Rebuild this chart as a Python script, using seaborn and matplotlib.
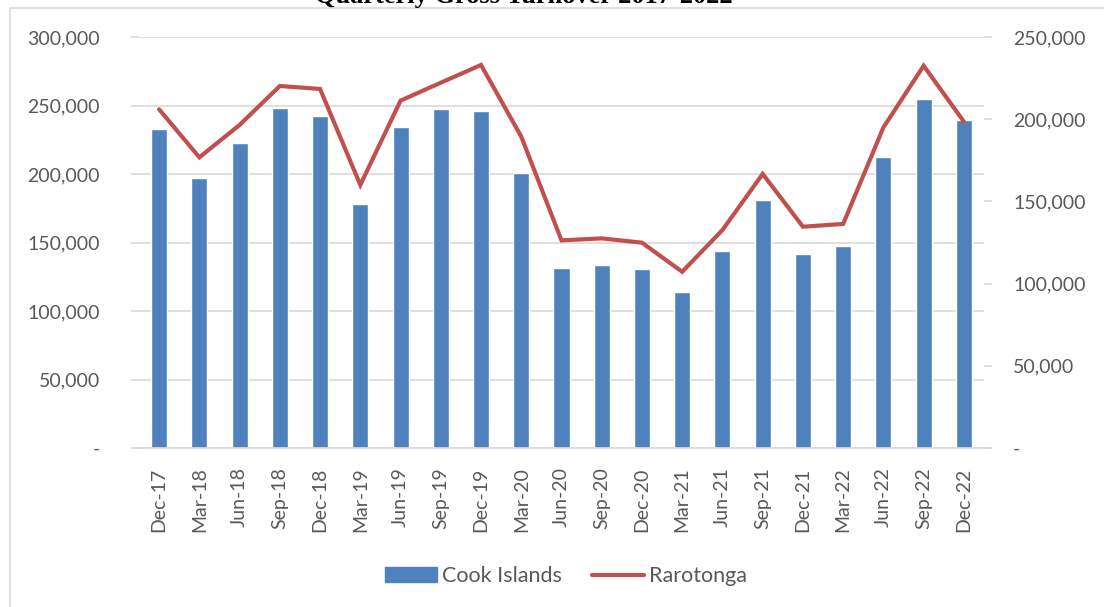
import matplotlib
matplotlib.use("Agg")
import matplotlib.pyplot as plt
import matplotlib.ticker as mticker
from matplotlib.lines import Line2D
import numpy as np
import pandas as pd
import seaborn as sns

# data
quarters = ['Dec-17', 'Mar-18', 'Jun-18', 'Sep-18', 'Dec-18', 'Mar-19', 'Jun-19',
            'Sep-19', 'Dec-19', 'Mar-20', 'Jun-20', 'Sep-20', 'Dec-20', 'Mar-21',
            'Jun-21', 'Sep-21', 'Dec-21', 'Mar-22', 'Jun-22', 'Sep-22', 'Dec-22']
cook_islands = [232600, 197000, 222400, 248400, 242300, 178100, 234300,
                247400, 245700, 200700, 131600, 133600, 130400, 113900,
                143800, 181000, 141800, 147400, 212200, 255000, 239200]
rarotonga = [206000, 176800, 196500, 220200, 218400, 160000, 211300,
             222200, 233000, 189400, 126300, 127500, 124900, 107200,
             132600, 166700, 134600, 136300, 195000, 232500, 198500]

BAR_COLOR = '#4F81BD'
LINE_COLOR = '#C0504D'
TEXT_COLOR = '#595959'
GRID_COLOR = '#D9D9D9'

df = pd.DataFrame({'Quarter': quarters,
                   'Cook Islands': cook_islands,
                   'Rarotonga': rarotonga})
df['pos'] = np.arange(len(df))

sns.set_theme(style='white')
plt.rcParams['font.family'] = ['Lato', 'DejaVu Sans']
plt.rcParams['text.color'] = TEXT_COLOR

W, H = 1104, 607
fig = plt.figure(figsize=(W / 100, H / 100), dpi=100)
fig.patch.set_facecolor('white')

# plot area in pixels: x 139..984, y 37..448
ax = fig.add_axes([139 / W, (H - 448) / H, (984 - 139) / W, (448 - 37) / H])

sns.barplot(data=df, x='Quarter', y='Cook Islands', color=BAR_COLOR,
            width=0.4, saturation=1, ax=ax, zorder=2)
ax.set_xlim(-0.5, len(quarters) - 0.5)
ax.set_ylim(0, 300000)
ax.yaxis.set_major_locator(mticker.MultipleLocator(50000))
ax.yaxis.set_major_formatter(mticker.FuncFormatter(
    lambda v, p: '-' if v == 0 else f'{int(v):,}'))
ax.grid(axis='y', color=GRID_COLOR, lw=1.2, zorder=0)
ax.set_axisbelow(True)
ax.set_xlabel('')
ax.set_ylabel('')

ax2 = ax.twinx()
sns.lineplot(data=df, x='pos', y='Rarotonga', color=LINE_COLOR, lw=3,
             ax=ax2, zorder=3, solid_capstyle='round', solid_joinstyle='miter')
ax2.set_ylim(0, 250000)
ax2.yaxis.set_major_locator(mticker.MultipleLocator(50000))
ax2.yaxis.set_major_formatter(mticker.FuncFormatter(
    lambda v, p: '-' if v == 0 else f'{int(v):,}'))
ax2.set_xlim(-0.5, len(quarters) - 0.5)
ax2.set_xlabel('')
ax2.set_ylabel('')

for a in (ax, ax2):
    for s in a.spines.values():
        s.set_visible(False)
ax.spines['bottom'].set_visible(True)
ax.spines['bottom'].set_color(GRID_COLOR)
ax.spines['bottom'].set_linewidth(1.2)

# category labels, tick marks between categories
ax.set_xticks(df['pos'])
ax.set_xticklabels(quarters, rotation=90, fontsize=14, color=TEXT_COLOR)
ax.set_xticks(np.arange(-0.5, len(quarters)), minor=True)
ax.tick_params(axis='x', which='major', length=0, pad=14)
ax.tick_params(axis='x', which='minor', length=6, color=GRID_COLOR, width=1.2,
               direction='out')
ax.tick_params(axis='y', length=6, color=GRID_COLOR, width=1.2, pad=22,
               labelsize=14, labelcolor=TEXT_COLOR, left=True)
ax2.tick_params(axis='y', length=6, color=GRID_COLOR, width=1.2, pad=15,
                labelsize=14, labelcolor=TEXT_COLOR, right=True)
for lab in ax2.get_yticklabels():
    lab.set_horizontalalignment('left')

# legend
handles = [plt.Rectangle((0, 0), 1, 1, color=BAR_COLOR),
           Line2D([0], [0], color=LINE_COLOR, lw=3, solid_capstyle='round')]
fig.legend(handles, ['Cook Islands', 'Rarotonga'], loc='center',
           bbox_to_anchor=(566 / W, 1 - 576 / H), ncol=2, frameon=False,
           fontsize=15.5, handlelength=2.4, handleheight=0.65,
           handletextpad=0.25, columnspacing=1.4, labelcolor=TEXT_COLOR)

# chart frame (top and left edges visible) and clipped title
fig.add_artist(Line2D([10 / W, 10 / W], [0, 1 - 8 / H], color=GRID_COLOR,
                      lw=1.2, transform=fig.transFigure))
fig.add_artist(Line2D([10 / W, 1], [1 - 8 / H, 1 - 8 / H], color=GRID_COLOR,
                      lw=1.2, transform=fig.transFigure))
fig.text(524 / W, 1 - 3 / H, 'Quarterly Gross Turnover 2017-2022',
         ha='center', va='baseline', fontsize=19, fontweight='bold',
         color='black', family=['Liberation Serif', 'DejaVu Serif'])

fig.savefig('out.png', dpi=100, facecolor='white')
